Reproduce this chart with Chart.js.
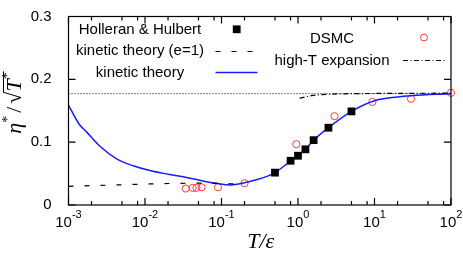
<!DOCTYPE html>
<html><head><meta charset="utf-8">
<script src="https://cdn.jsdelivr.net/npm/chart.js@4/dist/chart.umd.min.js"></script>
<style>html,body{margin:0;padding:0;background:#fff}</style>
</head><body>
<canvas id="c" width="463" height="255"></canvas>
<script>
// ---- data ----
const hhT   = [0.5, 0.8, 1.0, 1.25, 1.6, 2.5, 5.0];
const hhEta = [0.0515, 0.0704, 0.0784, 0.0886, 0.1032, 0.123, 0.149];

const dsmcT   = [0.034, 0.042, 0.047, 0.055, 0.09, 0.2, 0.95, 3.0, 9.4, 30, 100];
const dsmcEta = [0.0262, 0.0272, 0.0272, 0.0282, 0.0282, 0.0347, 0.0967, 0.1413, 0.164, 0.169, 0.1785];

const kinT   = [0.001, 0.00137, 0.00173, 0.0026, 0.0043, 0.007, 0.0116, 0.02, 0.0316, 0.05, 0.086, 0.13, 0.2, 0.3, 0.4, 0.5, 0.8, 1.0, 1.25, 1.6, 2.5, 5.0, 10, 20, 30, 100];
const kinEta = [0.159, 0.129, 0.116, 0.093, 0.073, 0.0625, 0.0548, 0.049, 0.0448, 0.0398, 0.0345, 0.032, 0.0355, 0.041, 0.046, 0.0515, 0.07, 0.079, 0.089, 0.103, 0.123, 0.149, 0.166, 0.172, 0.174, 0.177];

const e1T   = [0.001, 0.002, 0.005, 0.01, 0.02, 0.05, 0.1, 0.15];
const e1Eta = [0.0297, 0.0308, 0.0322, 0.0333, 0.0342, 0.0347, 0.0343, 0.0335];

const highT   = [1.05, 1.5, 2.0, 4.0, 10, 100];
const highEta = [0.170, 0.174, 0.1755, 0.177, 0.1775, 0.178];

const limitT   = [0.001, 100];
const limitEta = [0.1772, 0.1772];

const xTickExps   = [-3, -2, -1, 0, 1, 2];
const xMinorMults = [2, 5, 8];
const yTickValues = [0, 0.1, 0.2, 0.3];
const yTickLabels = ['0', '0.1', '0.2', '0.3'];

const legendLeft  = ['Holleran & Hulbert', 'kinetic theory (e=1)', 'kinetic theory'];
const legendRight = ['DSMC', 'high-T expansion'];

const pts = (xs, ys) => xs.map((v, i) => ({x: v, y: ys[i]}));

const SANS = '"Liberation Sans", Arial, sans-serif';
const SERIF = '"Liberation Serif", "Times New Roman", serif';
const BLUE = '#1a1aff';
const RED = '#ff3b3b';

const decoPlugin = {
  id: 'deco',
  afterDraw(chart) {
    const {ctx, chartArea: a, scales: {x, y}} = chart;
    ctx.save();
    ctx.strokeStyle = '#000';
    ctx.lineWidth = 1.2;
    ctx.beginPath();
    xTickExps.forEach(e => {
      const px = x.getPixelForValue(Math.pow(10, e));
      ctx.moveTo(px, a.bottom); ctx.lineTo(px, a.bottom - 7);
      ctx.moveTo(px, a.top); ctx.lineTo(px, a.top + 7);
      if (e < 2) xMinorMults.forEach(m => {
        const q = x.getPixelForValue(m * Math.pow(10, e));
        ctx.moveTo(q, a.bottom); ctx.lineTo(q, a.bottom - 4);
        ctx.moveTo(q, a.top); ctx.lineTo(q, a.top + 4);
      });
    });
    yTickValues.forEach(v => {
      const py = y.getPixelForValue(v);
      ctx.moveTo(a.left, py); ctx.lineTo(a.left + 7, py);
      ctx.moveTo(a.right, py); ctx.lineTo(a.right - 7, py);
    });
    ctx.stroke();
    ctx.strokeRect(a.left, a.top, a.right - a.left, a.bottom - a.top);

    // x tick labels with superscript exponents
    ctx.fillStyle = '#000';
    ctx.textBaseline = 'alphabetic';
    ctx.textAlign = 'left';
    xTickExps.forEach(e => {
      const px = x.getPixelForValue(Math.pow(10, e));
      const base = '10', ex = String(e);
      ctx.font = '15px ' + SANS;
      const wb = ctx.measureText(base).width;
      ctx.font = '11px ' + SANS;
      const we = ctx.measureText(ex).width;
      const sx = px - (wb + we) / 2;
      ctx.font = '15px ' + SANS;
      ctx.fillText(base, sx, 227);
      ctx.font = '11px ' + SANS;
      ctx.fillText(ex, sx + wb, 218);
    });

    // x title
    ctx.font = 'italic 22px ' + SERIF;
    ctx.textAlign = 'center';
    ctx.fillText('T/\u03B5', (a.left + a.right) / 2 + 1, 248);

    // y title: eta*/sqrt(T*)
    ctx.save();
    const fMain = 'italic 22px ' + SERIF, fSup = '14px ' + SERIF, fUp = '22px ' + SERIF;
    const parts = [
      {t: '\u03B7', f: fMain, dy: 0, g: 0},
      {t: '*', f: fSup, dy: -9, g: 3},
      {t: '/', f: fUp, dy: 0, g: 3},
      {t: '\u221A', f: fUp, dy: 0, g: 0},
      {t: 'T', f: fMain, dy: 0, g: 0},
      {t: '*', f: fSup, dy: -9, g: 0}
    ];
    let tot = 0;
    parts.forEach(p => { ctx.font = p.f; p.w = ctx.measureText(p.t).width; tot += p.w + p.g; });
    ctx.translate(21, 103 + tot / 2);
    ctx.rotate(-Math.PI / 2);
    ctx.textAlign = 'left';
    let cx = 0, rootStart = 0;
    parts.forEach((p, i) => {
      ctx.font = p.f;
      if (i === 4) rootStart = cx;
      ctx.fillText(p.t, cx, p.dy);
      cx += p.w + p.g;
    });
    ctx.lineWidth = 1;
    ctx.beginPath();
    ctx.moveTo(rootStart - 1, -17.5); ctx.lineTo(cx + 1, -17.5);
    ctx.stroke();
    ctx.restore();

    // legend
    ctx.font = '15px ' + SANS;
    ctx.textAlign = 'center';
    ctx.fillStyle = '#000';
    const lb = [33.5, 55, 77];
    legendLeft.forEach((t, i) => ctx.fillText(t, 140, lb[i]));
    const rb = [42.5, 64.5];
    legendRight.forEach((t, i) => ctx.fillText(t, 332, rb[i]));
    ctx.fillRect(232.8, 25.4, 7.8, 7.8);
    ctx.lineWidth = 1.2;
    ctx.setLineDash([5, 11]);
    ctx.beginPath(); ctx.moveTo(215.5, 51.5); ctx.lineTo(254, 51.5); ctx.stroke();
    ctx.setLineDash([]);
    ctx.strokeStyle = BLUE; ctx.lineWidth = 1.5;
    ctx.beginPath(); ctx.moveTo(215.5, 72.5); ctx.lineTo(257.5, 72.5); ctx.stroke();
    ctx.strokeStyle = RED; ctx.lineWidth = 1;
    ctx.beginPath(); ctx.arc(424, 37.5, 3.5, 0, Math.PI * 2); ctx.stroke();
    ctx.strokeStyle = '#000'; ctx.lineWidth = 1.2;
    ctx.setLineDash([5, 2.5, 1, 2.5]);
    ctx.beginPath(); ctx.moveTo(403, 60.5); ctx.lineTo(445, 60.5); ctx.stroke();
    ctx.restore();
  }
};

new Chart(document.getElementById('c'), {
  type: 'scatter',
  data: {
    datasets: [
      {label: 'limit', data: pts(limitT, limitEta), showLine: true, borderColor: '#000', borderWidth: 1, borderDash: [1, 2], pointRadius: 0},
      {label: 'kinetic theory (e=1)', data: pts(e1T, e1Eta), showLine: true, borderColor: '#000', borderWidth: 1.2, borderDash: [5, 11], pointRadius: 0, cubicInterpolationMode: 'monotone'},
      {label: 'high-T expansion', data: pts(highT, highEta), showLine: true, borderColor: '#000', borderWidth: 1.2, borderDash: [5, 2.5, 1, 2.5], pointRadius: 0, cubicInterpolationMode: 'monotone'},
      {label: 'Holleran & Hulbert', data: pts(hhT, hhEta), showLine: false, pointStyle: 'rect', pointRadius: 5.5, backgroundColor: '#000', borderColor: '#000', borderWidth: 0},
      {label: 'kinetic theory', data: pts(kinT, kinEta), showLine: true, borderColor: BLUE, borderWidth: 1.5, pointRadius: 0, cubicInterpolationMode: 'monotone'},
      {label: 'DSMC', data: pts(dsmcT, dsmcEta), showLine: false, pointStyle: 'circle', pointRadius: 3.6, backgroundColor: 'rgba(0,0,0,0)', borderColor: RED, borderWidth: 1}
    ]
  },
  options: {
    responsive: false,
    animation: false,
    devicePixelRatio: 1,
    clip: false,
    layout: {autoPadding: false, padding: {top: 7.5, right: 12, left: 0, bottom: 0}},
    plugins: {legend: {display: false}, tooltip: {enabled: false}},
    scales: {
      x: {
        type: 'logarithmic', min: 0.001, max: 100,
        grid: {display: false}, border: {display: false},
        ticks: {display: false},
        afterFit(s) { s.height = 50; }
      },
      y: {
        min: 0, max: 0.3,
        grid: {display: false}, border: {display: false},
        afterBuildTicks(s) { s.ticks = yTickValues.map(v => ({value: v})); },
        ticks: {
          color: '#000', padding: 9,
          font: {family: SANS, size: 15, lineHeight: 1},
          callback: (v) => yTickLabels[Math.round(v * 10)]
        },
        afterFit(s) { s.width = 68.5; }
      }
    }
  },
  plugins: [decoPlugin]
});
</script>
</body></html>
